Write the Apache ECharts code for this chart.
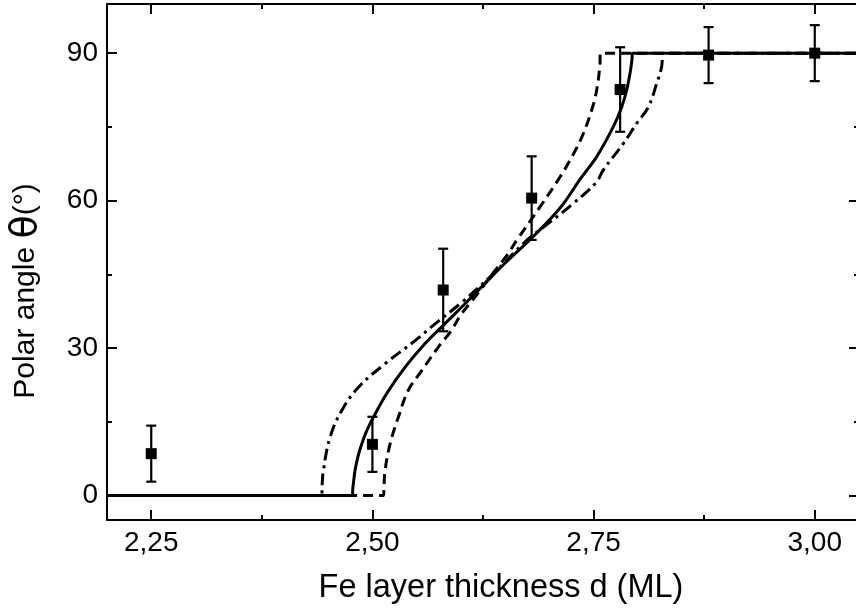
<!DOCTYPE html>
<html>
<head>
<meta charset="utf-8">
<script src="https://cdn.jsdelivr.net/npm/echarts@6/dist/echarts.min.js"></script>
<style>
html,body{margin:0;padding:0;background:#fff;}
#chart{width:856px;height:615px;}
</style>
</head>
<body>
<div id="chart"></div>
<script>
// ---- data ----
const xMajorTicks = [2.25, 2.50, 2.75, 3.00];
const xMinorTicks = [2.375, 2.625, 2.875];
const yMajorTicks = [0, 30, 60, 90];
const yMinorTicks = [15, 45, 75];

const thickness = [2.25, 2.50, 2.58, 2.68, 2.78, 2.88, 3.00];
const angle     = [8.5, 10.4, 41.8, 60.5, 82.6, 89.6, 90.0];
const angleErr  = [5.7, 5.6, 8.4, 8.5, 8.6, 5.7, 5.7];

const solidFit = [
  [2.20, 0], [2.4774, 0], [2.4778, 1.4], [2.4785, 2.4], [2.4804, 5.1], [2.4835, 7.8],
  [2.488, 10.5], [2.4936, 13.2], [2.5011, 15.9], [2.516, 20.7], [2.537, 26.1],
  [2.5595, 30.9], [2.580, 34.6], [2.6047, 39.0], [2.627, 43.1], [2.653, 47.8],
  [2.683, 52.9], [2.713, 58.7], [2.7346, 64.3], [2.7534, 68.9], [2.7722, 75.0],
  [2.7817, 79.0], [2.7873, 82.4], [2.7911, 85.8], [2.7933, 88.5], [2.7941, 90],
  [3.05, 90]
];
const dashFit = [
  [2.20, 0], [2.5127, 0], [2.5131, 1.8], [2.5143, 5.1], [2.520, 10.5], [2.5293, 15.9],
  [2.5406, 21.4], [2.5558, 25.4], [2.5745, 30.2], [2.5877, 33.2], [2.601, 37.0],
  [2.616, 40.4], [2.6354, 45.0], [2.6526, 49.0], [2.6631, 51.9], [2.6894, 58.7],
  [2.712, 64.8], [2.727, 69.4], [2.7383, 73.6], [2.7478, 78.4], [2.7534, 82.4],
  [2.757, 87.2], [2.758, 90], [3.05, 90]
];
const dashDotFit = [
  [2.20, 0], [2.4428, 0], [2.4432, 2.2], [2.4446, 5.1], [2.4522, 11.9], [2.4654, 17.3],
  [2.4842, 22.0], [2.5143, 26.8], [2.5482, 31.5], [2.5708, 34.9], [2.601, 39.3],
  [2.636, 45.0], [2.6744, 51.9], [2.7007, 55.6], [2.727, 59.4], [2.7534, 63.8],
  [2.7609, 66.2], [2.7836, 71.6], [2.7987, 75.7], [2.8118, 79.0], [2.8213, 83.8],
  [2.8269, 87.2], [2.8287, 90], [3.05, 90]
];

// ---- chart ----
const FONT = 'Liberation Sans, Arial, sans-serif';
const X_MIN = 2.20, X_MAX = 3.05, Y_MIN = -5, Y_MAX = 100;
const black = '#000';

function xAxisDef(position, ticks, tickLen, showLine, showLabel, extra) {
  return Object.assign({
    type: 'value', position: position, min: X_MIN, max: X_MAX,
    axisLine: {show: showLine, onZero: false, lineStyle: {color: black, width: 2}},
    axisTick: {show: true, inside: true, length: tickLen, customValues: ticks,
               lineStyle: {color: black, width: 2}},
    axisLabel: {show: showLabel, customValues: ticks, color: black, fontSize: 28,
                fontFamily: FONT, margin: 9,
                formatter: v => v.toFixed(2).replace('.', ',')},
    splitLine: {show: false}
  }, extra || {});
}
function yAxisDef(position, ticks, tickLen, showLine, showLabel, extra) {
  return Object.assign({
    type: 'value', position: position, min: Y_MIN, max: Y_MAX,
    axisLine: {show: showLine, onZero: false, lineStyle: {color: black, width: 2}},
    axisTick: {show: true, inside: true, length: tickLen, customValues: ticks,
               lineStyle: {color: black, width: 2}},
    axisLabel: {show: showLabel, customValues: ticks, color: black, fontSize: 28,
                fontFamily: FONT, margin: 9, formatter: v => String(Math.round(v))},
    splitLine: {show: false}
  }, extra || {});
}

const lineCommon = {type: 'line', showSymbol: false, symbol: 'none', silent: true,
                    smooth: 0.4, z: 3};

const chart = echarts.init(document.getElementById('chart'), null, {renderer: 'canvas'});
chart.setOption({
  animation: false,
  backgroundColor: '#fff',
  grid: {left: 107, width: 752, top: 4, bottom: 95, containLabel: false,
         outerBoundsMode: 'none'},
  xAxis: [
    xAxisDef('bottom', xMajorTicks, 10, true, true, {
      name: 'Fe layer thickness d (ML)', nameLocation: 'middle', nameGap: 52,
      nameTextStyle: {fontSize: 32.5, fontFamily: FONT, color: black, padding: [0, 0, 0, 36]}
    }),
    xAxisDef('bottom', xMinorTicks, 5, false, false),
    xAxisDef('top', xMajorTicks, 10, true, false),
    xAxisDef('top', xMinorTicks, 5, false, false)
  ],
  yAxis: [
    yAxisDef('left', yMajorTicks, 10, true, true, {
      name: 'Polar angle {th|θ}(°)', nameLocation: 'middle', nameGap: 62, nameRotate: 90,
      nameTextStyle: {fontSize: 30, fontFamily: FONT, color: black, padding: [0, 58, 0, 0],
        rich: {th: {fontSize: 38, fontFamily: 'DejaVu Sans', color: black}}}
    }),
    yAxisDef('left', yMinorTicks, 5, false, false),
    yAxisDef('right', yMajorTicks, 10, true, false),
    yAxisDef('right', yMinorTicks, 5, false, false)
  ],
  series: [
    Object.assign({}, lineCommon, {data: solidFit,
      lineStyle: {color: black, width: 3, type: 'solid'}}),
    Object.assign({}, lineCommon, {data: dashFit,
      lineStyle: {color: black, width: 3, type: [10, 6]}}),
    Object.assign({}, lineCommon, {data: dashDotFit,
      lineStyle: {color: black, width: 3, type: [12, 5, 3, 5]}}),
    {type: 'custom', silent: true, z: 4,
     data: thickness.map((d, i) => [d, angle[i], angleErr[i]]),
     encode: {x: 0, y: 1},
     renderItem: function (params, api) {
       const x = api.value(0), y = api.value(1), e = api.value(2);
       const top = api.coord([x, y + e]);
       const bot = api.coord([x, y - e]);
       const hw = 5;
       const st = {stroke: black, lineWidth: 2.2};
       return {type: 'group', children: [
         {type: 'line', shape: {x1: top[0], y1: top[1], x2: bot[0], y2: bot[1]}, style: st},
         {type: 'line', shape: {x1: top[0] - hw, y1: top[1], x2: top[0] + hw, y2: top[1]}, style: st},
         {type: 'line', shape: {x1: bot[0] - hw, y1: bot[1], x2: bot[0] + hw, y2: bot[1]}, style: st}
       ]};
     }},
    {type: 'scatter', silent: true, z: 5,
     data: thickness.map((d, i) => [d, angle[i]]),
     symbol: 'rect', symbolSize: 11, itemStyle: {color: black, opacity: 1}}
  ]
});
</script>
</body>
</html>
